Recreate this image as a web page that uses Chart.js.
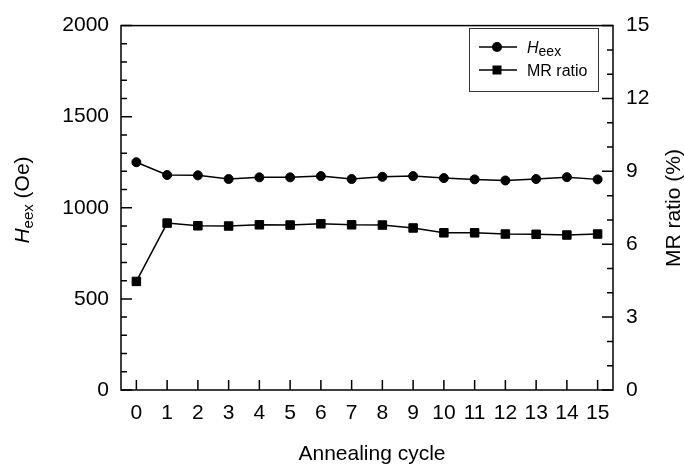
<!DOCTYPE html>
<html>
<head>
<meta charset="utf-8">
<title>Heex and MR ratio vs annealing cycle</title>
<script src="https://cdn.jsdelivr.net/npm/chart.js"></script>
<style>
  html, body { margin: 0; padding: 0; background: #fff; overflow: hidden; }
  #wrap { position: relative; width: 684px; height: 465px; }
</style>
</head>
<body>
<div id="wrap"><canvas id="chart" width="684" height="465"></canvas></div>
<script>
// data
const cycles = ['0', '1', '2', '3', '4', '5', '6', '7', '8', '9', '10', '11', '12', '13', '14', '15'];
const heex = [1250, 1180, 1178, 1158, 1167, 1167, 1174, 1158, 1170, 1174, 1163, 1156, 1150, 1158, 1168, 1156];
const mrRatio = [4.47, 6.87, 6.76, 6.75, 6.80, 6.79, 6.84, 6.80, 6.79, 6.67, 6.47, 6.47, 6.42, 6.41, 6.38, 6.42];
const heexTicks = [0, 500, 1000, 1500, 2000];
const mrTicks = [0, 3, 6, 9, 12, 15];
const heexMinor = [100, 200, 300, 400, 600, 700, 800, 900, 1100, 1200, 1300, 1400, 1600, 1700, 1800, 1900];
const mrMinor = [1, 2, 4, 5, 7, 8, 10, 11, 13, 14];

const FONT = '"Liberation Sans", Arial, Helvetica, sans-serif';

// frame + inward tick marks, titles and legend
const framePlugin = {
  id: 'framePlugin',
  beforeDatasetsDraw(chart) {
    const { ctx, chartArea: a, scales } = chart;
    ctx.save();
    ctx.strokeStyle = '#000';
    ctx.lineWidth = 1.5;
    ctx.strokeRect(a.left, a.top, a.right - a.left, a.bottom - a.top);
    ctx.beginPath();
    const tick = (x1, y1, x2, y2) => { ctx.moveTo(x1, y1); ctx.lineTo(x2, y2); };
    heexTicks.forEach(v => { const y = scales.y.getPixelForValue(v); tick(a.left, y, a.left + 11, y); });
    heexMinor.forEach(v => { const y = scales.y.getPixelForValue(v); tick(a.left, y, a.left + 6, y); });
    mrTicks.forEach(v => { const y = scales.y2.getPixelForValue(v); tick(a.right, y, a.right - 11, y); });
    mrMinor.forEach(v => { const y = scales.y2.getPixelForValue(v); tick(a.right, y, a.right - 6, y); });
    cycles.forEach((c, i) => { const x = scales.x.getPixelForValue(i); tick(x, a.bottom, x, a.bottom - 10); });
    ctx.stroke();
    ctx.restore();
  },
  afterDraw(chart) {
    const { ctx, chartArea: a } = chart;
    ctx.save();
    ctx.fillStyle = '#000';
    ctx.textBaseline = 'alphabetic';

    // x title
    ctx.font = '21px ' + FONT;
    ctx.textAlign = 'center';
    ctx.fillText('Annealing cycle', (a.left + a.right) / 2 + 5, 460);

    // left title: H_eex (Oe)
    const mainF = '21px ' + FONT, itF = 'italic 21px ' + FONT, subF = '15px ' + FONT;
    ctx.textAlign = 'left';
    ctx.font = itF; const wH = ctx.measureText('H').width;
    ctx.font = subF; const wS = ctx.measureText('eex').width;
    ctx.font = mainF; const wR = ctx.measureText(' (Oe)').width;
    const total = wH + wS + wR;
    ctx.save();
    ctx.translate(29, 200);
    ctx.rotate(-Math.PI / 2);
    let x = -total / 2;
    ctx.font = itF; ctx.fillText('H', x, 0); x += wH;
    ctx.font = subF; ctx.fillText('eex', x, 4); x += wS;
    ctx.font = mainF; ctx.fillText(' (Oe)', x, 0);
    ctx.restore();

    // right title
    ctx.save();
    ctx.translate(680, 208);
    ctx.rotate(-Math.PI / 2);
    ctx.font = mainF;
    ctx.textAlign = 'center';
    ctx.fillText('MR ratio (%)', 0, 0);
    ctx.restore();

    // legend
    const lx = 469, ly = 28, lw = 129, lh = 63;
    ctx.lineWidth = 1;
    ctx.strokeStyle = '#333';
    ctx.strokeRect(lx + 0.5, ly + 0.5, lw, lh);
    const rows = [47, 70];
    ctx.strokeStyle = '#000';
    ctx.lineWidth = 1.5;
    rows.forEach(y => {
      ctx.beginPath(); ctx.moveTo(479, y); ctx.lineTo(517, y); ctx.stroke();
    });
    ctx.beginPath(); ctx.arc(497, rows[0], 5, 0, Math.PI * 2); ctx.fill();
    ctx.fillRect(497 - 4.5, rows[1] - 4.5, 9, 9);
    ctx.textAlign = 'left';
    ctx.font = 'italic 16px ' + FONT;
    ctx.fillText('H', 527, rows[0] + 6);
    const wh = ctx.measureText('H').width;
    ctx.font = '14px ' + FONT;
    ctx.fillText('eex', 527 + wh, rows[0] + 9);
    ctx.font = '16px ' + FONT;
    ctx.fillText('MR ratio', 527, rows[1] + 6);
    ctx.restore();
  }
};

const tickFont = { family: FONT, size: 21 };
const plain = v => String(v);

new Chart(document.getElementById('chart'), {
  type: 'line',
  data: {
    labels: cycles,
    datasets: [
      {
        label: 'Heex',
        data: heex,
        yAxisID: 'y',
        borderColor: '#000',
        backgroundColor: '#000',
        borderWidth: 1.5,
        pointStyle: 'circle',
        pointRadius: 4.5,
        pointBorderWidth: 1,
        tension: 0
      },
      {
        label: 'MR ratio',
        data: mrRatio,
        yAxisID: 'y2',
        borderColor: '#000',
        backgroundColor: '#000',
        borderWidth: 1.5,
        pointStyle: 'rect',
        pointRadius: 6,
        pointBorderWidth: 1,
        tension: 0
      }
    ]
  },
  options: {
    responsive: false,
    animation: false,
    devicePixelRatio: 1,
    layout: { padding: { top: 21, left: 0, right: 0, bottom: 0 } },
    plugins: { legend: { display: false }, tooltip: { enabled: false } },
    scales: {
      x: {
        type: 'category',
        offset: true,
        grid: { display: false, drawTicks: false },
        border: { display: false },
        ticks: { font: tickFont, color: '#000', padding: 11, maxRotation: 0, autoSkip: false },
        afterFit: s => { s.height = 75; }
      },
      y: {
        position: 'left',
        min: 0,
        max: 2000,
        afterBuildTicks: s => { s.ticks = heexTicks.map(v => ({ value: v })); },
        grid: { display: false, drawTicks: false },
        border: { display: false },
        ticks: { font: tickFont, color: '#000', padding: 12, callback: plain },
        afterFit: s => { s.width = 121; }
      },
      y2: {
        position: 'right',
        min: 0,
        max: 15,
        afterBuildTicks: s => { s.ticks = mrTicks.map(v => ({ value: v })); },
        grid: { display: false, drawTicks: false },
        border: { display: false },
        ticks: { font: tickFont, color: '#000', padding: 13, callback: plain },
        afterFit: s => { s.width = 71; }
      }
    }
  },
  plugins: [framePlugin]
});
</script>
</body>
</html>
